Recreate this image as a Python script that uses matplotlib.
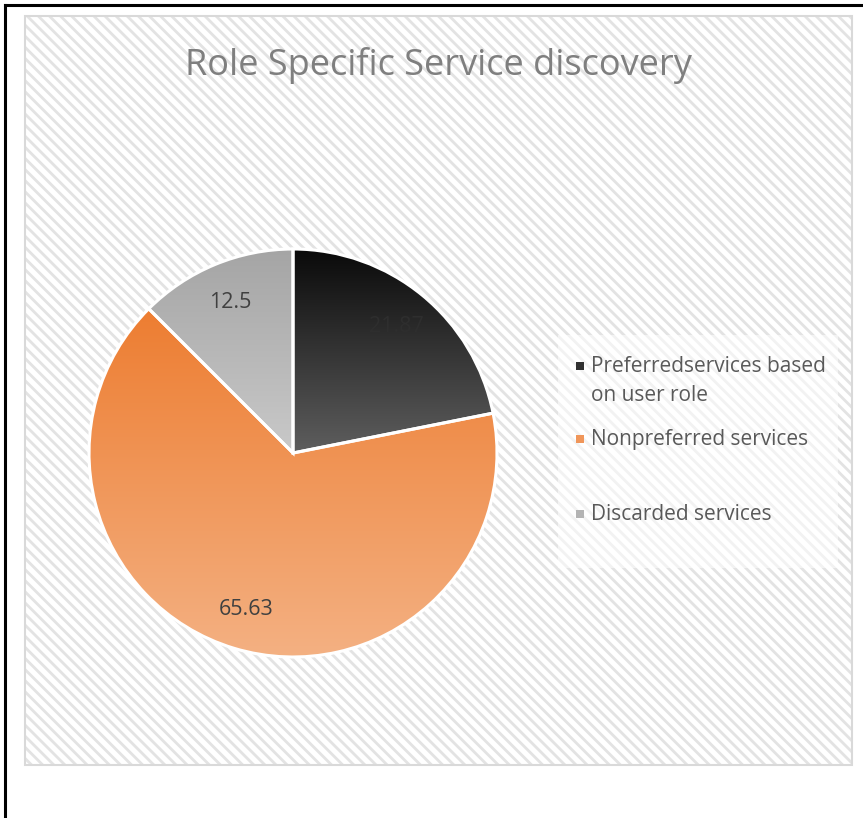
import numpy as np
import matplotlib.pyplot as plt
from matplotlib.patches import Rectangle
from matplotlib.lines import Line2D
from matplotlib.colors import LinearSegmentedColormap

plt.rcParams['font.family'] = ['Open Sans', 'DejaVu Sans']
plt.rcParams['hatch.linewidth'] = 2.0
plt.rcParams['hatch.color'] = '#e3e3e3'

title = "Role Specific Service discovery"
categories = ["Preferredservices based\non user role", "Nonpreferred services", "Discarded services"]
values = [21.87, 65.63, 12.5]
value_labels = ["21.87", "65.63", "12.5"]
# gradient (top colour, bottom colour) per slice
grad_top = ['#0a0a0a', '#ed7d31', '#a5a5a5']
grad_bot = ['#5e5e5e', '#f4b183', '#c9c9c9']
legend_colors = ['#303030', '#f0965a', '#b4b4b4']
label_colors = ['#2e2e2e', '#404040', '#404040']

W, H = 863, 818
fig = plt.figure(figsize=(W / 100, H / 100), dpi=100)


def fx(x):
    return x / W


def fy(y):
    return 1 - y / H


# outer black frame (only top/left visible)
fig.add_artist(Line2D([fx(5), 1], [fy(5), fy(5)], color='black', lw=2.2))
fig.add_artist(Line2D([fx(5), fx(5)], [fy(5), 0], color='black', lw=2.2))

# hatched chart area (behind the pie axes)
area = (fx(25), fy(765)), fx(852) - fx(25), fy(16) - fy(765)
fig.add_artist(Rectangle(*area, facecolor='white', edgecolor='none', zorder=-3))
fig.add_artist(Rectangle(*area, facecolor='none', hatch='\\\\\\', edgecolor='#e3e3e3',
                         lw=0, zorder=-2))
fig.add_artist(Rectangle(*area, facecolor='none', edgecolor='#d9d9d9', lw=1.5, zorder=-1))

fig.text(fx(438), fy(66), title, ha='center', va='center', fontsize=26, color='#7f7f7f')

# pie
cx, cy, r = 293, 453, 204
ax = fig.add_axes([fx(cx - r), fy(cy + r), 2 * r / W, 2 * r / H])
ax.patch.set_visible(False)
wedges, _ = ax.pie(values, startangle=90, counterclock=False, radius=1,
                   wedgeprops=dict(edgecolor='white', linewidth=2.2))
ax.axis('off')

for w, ct, cb, lab, lc in zip(wedges, grad_top, grad_bot, value_labels, label_colors):
    w.set_facecolor('none')
    w.set_zorder(2)
    verts = w.get_path().vertices
    ymin, ymax = verts[:, 1].min(), verts[:, 1].max()
    cmap = LinearSegmentedColormap.from_list('g', [cb, ct])
    grad = np.linspace(0, 1, 256).reshape(-1, 1)
    im = ax.imshow(grad, extent=(-1, 1, ymin, ymax), origin='lower', cmap=cmap,
                   aspect='auto', zorder=1)
    im.set_clip_path(w)
    mid = np.deg2rad((w.theta1 + w.theta2) / 2)
    ax.text(0.8 * np.cos(mid), 0.8 * np.sin(mid), lab, ha='center', va='center',
            fontsize=15.5, color=lc, zorder=3)
ax.set_xlim(-1.0, 1.0)
ax.set_ylim(-1.0, 1.0)

# legend
fig.add_artist(Rectangle((fx(558), fy(568)), fx(838) - fx(558), fy(335) - fy(568),
                         facecolor='white', alpha=0.55, edgecolor='none', zorder=0.5))
marker_y = [366, 439, 514]
text_y = [381, 439, 514]
for cat, col, my, ty in zip(categories, legend_colors, marker_y, text_y):
    fig.add_artist(Rectangle((fx(576), fy(my + 4)), 8 / W, 8 / H, facecolor=col,
                             edgecolor='none', zorder=1))
    fig.text(fx(591), fy(ty), cat, ha='left', va='center',
             fontsize=15, color='#595959', linespacing=1.55)

fig.savefig('out.png', dpi=100)
